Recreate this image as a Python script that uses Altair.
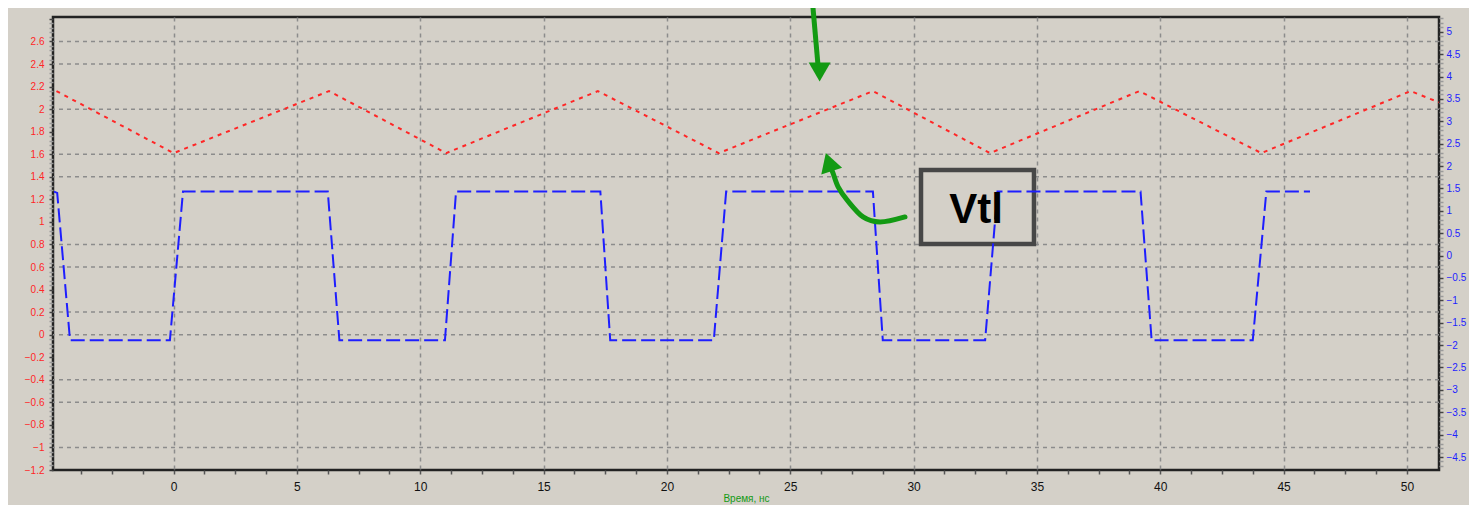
import altair as alt
import pandas as pd

# ---------------- data ----------------
time_red = [-4.75, 0.0, 6.3, 11.05, 17.2, 22.1, 28.35, 33.1, 39.15, 44.1, 50.15, 51.3]
v_red = [2.16, 1.61, 2.16, 1.61, 2.16, 1.61, 2.16, 1.61, 2.16, 1.61, 2.16, 2.06]

time_blue = [-4.85, -4.72, -4.2, -0.15, 0.38, 6.25, 6.72, 11.0, 11.45, 17.3, 17.7,
             21.9, 22.4, 28.35, 28.75, 32.9, 33.4, 39.2, 39.65, 43.75, 44.3, 46.07]
v_blue = [1.43, 1.40, -1.89, -1.89, 1.43, 1.43, -1.89, -1.89, 1.43, 1.43, -1.89,
          -1.89, 1.43, 1.43, -1.89, -1.89, 1.43, 1.43, -1.89, -1.89, 1.43, 1.43]

x_ticks = [round(-3.75 + 1.25 * i, 2) for i in range(44)]
left_ticks = [round(-1.2 + 0.04 * i, 2) for i in range(101)]
right_ticks = [round(-4.7 + 0.1 * i, 1) for i in range(101)]
left_grid = [2.6, 2.4, 2.0, 1.6, 1.4, 0.8, 0.6, 0.2, 0.0, -0.4, -0.6, -1.0]

# annotations (data units of the left axis)
arrow1_t = [25.92, 26.12]
arrow1_v = [2.90, 2.40]
arrow2_t = [29.65, 28.64, 27.95, 27.30, 26.94, 26.73, 26.62]
arrow2_v = [1.044, 0.999, 1.044, 1.195, 1.310, 1.434, 1.49]
head_t = [26.19, 26.56]
head_v = [2.33, 1.53]
head_shape = ["triangle-down", "triangle-up"]
head_angle = [0, 342]
box_t = [30.30]
box_t2 = [34.88]
box_v = [1.461]
box_v2 = [0.804]
label_t = [32.53]
label_v = [0.99]
label_txt = ["Vtl"]

BG = "#d4d0c8"
RED = "#ff2626"
BLUE = "#1e1eff"
GREEN = "#139a13"
GRID = "#8c8c8c"
FONT = "Liberation Sans"

XDOM = [-4.89, 51.3]
LDOM = [-1.2, 2.817]
RDOM = [-4.79, 5.33]

red_df = pd.DataFrame({"t": time_red, "v": v_red})
blue_df = pd.DataFrame({"t": time_blue, "v": v_blue})
grid_df = pd.DataFrame({"v": left_grid})
a1_df = pd.DataFrame({"t": arrow1_t, "v": arrow1_v, "o": range(len(arrow1_t))})
a2_df = pd.DataFrame({"t": arrow2_t, "v": arrow2_v, "o": range(len(arrow2_t))})
head_df = pd.DataFrame({"t": head_t, "v": head_v, "shape": head_shape, "angle": head_angle})
box_df = pd.DataFrame({"t": box_t, "t2": box_t2, "v": box_v, "v2": box_v2})
lab_df = pd.DataFrame({"t": label_t, "v": label_v, "txt": label_txt})

xaxis = alt.Axis(
    values=x_ticks,
    labelExpr="datum.value % 5 === 0 ? format(datum.value, 'd') : ''",
    labelFont=FONT, labelFontSize=12, labelColor="#111",
    labelPadding=7, labelOverlap=False, labelFlush=False,
    tickSize=4, tickColor="#555", tickWidth=1.5,
    grid=True, gridColor=GRID, gridDash=[4, 4], gridWidth=1.5,
    gridOpacity={"condition": {"test": "datum.value % 5 === 0", "value": 1}, "value": 0},
    domain=False,
    title="Время, нс", titleColor=GREEN, titleFont=FONT,
    titleFontSize=10, titleFontWeight="normal", titlePadding=1,
)


def X():
    return alt.X("t:Q", scale=alt.Scale(domain=XDOM, nice=False, zero=False), axis=xaxis)


def YL(field="v", axis=None):
    if axis is None:
        return alt.Y(f"{field}:Q", scale=alt.Scale(domain=LDOM, nice=False, zero=False), axis=None)
    return alt.Y(f"{field}:Q", scale=alt.Scale(domain=LDOM, nice=False, zero=False), axis=axis)


LTEST = "abs(datum.value*5 - round(datum.value*5)) < 0.001"
RTEST = "abs(datum.value*2 - round(datum.value*2)) < 0.001"

grid = alt.Chart(grid_df).mark_rule(color=GRID, strokeDash=[4, 4], strokeWidth=1.5).encode(
    y=YL()
)

box = alt.Chart(box_df).mark_rect(fill=BG, stroke="#474747", strokeWidth=4.5).encode(
    x=X(), x2="t2:Q", y=YL(), y2="v2:Q"
)

left_axis = alt.Axis(
    orient="left", values=left_ticks,
    labelExpr=f"{LTEST} && datum.value < 2.7 ? format(datum.value, '.1~f') : ''",
    labelColor=RED, labelFont=FONT, labelFontSize=10, labelPadding=5,
    labelOverlap=False, labelFlush=False,
    tickSize=4, tickWidth=1.5,
    tickColor={"condition": {"test": LTEST, "value": "#444"}, "value": "#9a9a9a"},
    grid=False, domain=False, title=None,
)

red = alt.Chart(red_df).mark_line(color=RED, strokeWidth=2, strokeDash=[4, 5]).encode(
    x=X(), y=YL(axis=left_axis)
)

right_axis = alt.Axis(
    orient="right", values=right_ticks,
    labelExpr=f"{RTEST} ? format(datum.value, '.1~f') : ''",
    labelColor=BLUE, labelFont=FONT, labelFontSize=10, labelPadding=3,
    labelOverlap=False, labelFlush=False,
    tickSize=4, tickWidth=1.5,
    tickColor={"condition": {"test": RTEST, "value": "#444"}, "value": "#9a9a9a"},
    grid=False, domain=False, title=None,
)

blue = alt.Chart(blue_df).mark_line(color=BLUE, strokeWidth=2, strokeDash=[14, 5]).encode(
    x=X(),
    y=alt.Y("v:Q", scale=alt.Scale(domain=RDOM, nice=False, zero=False), axis=right_axis),
)

text = alt.Chart(lab_df).mark_text(
    font=FONT, fontWeight="bold", fontSize=42, color="#000",
    align="center", baseline="alphabetic"
).encode(x=X(), y=YL(), text="txt:N")

arrow1 = alt.Chart(a1_df).mark_line(color=GREEN, strokeWidth=5).encode(
    x=X(), y=YL(), order="o:Q"
)
arrow2 = alt.Chart(a2_df).mark_line(color=GREEN, strokeWidth=5, interpolate="cardinal",
                                    strokeCap="round").encode(
    x=X(), y=YL(), order="o:Q"
)
heads = alt.Chart(head_df).mark_point(filled=True, color=GREEN, opacity=1, size=480).encode(
    x=X(), y=YL(),
    shape=alt.Shape("shape:N", scale=None),
    angle=alt.Angle("angle:Q", scale=None),
)

chart = alt.layer(grid, box, red, blue, text, arrow1, arrow2, heads).resolve_scale(
    y="independent"
).properties(
    width=1386, height=453,
    padding={"left": 45, "top": 9, "right": 30, "bottom": 35},
    autosize=alt.AutoSizeParams(type="none"),
    background=BG,
).configure_view(stroke="#222", strokeWidth=2.5)

chart.save("out.html", embed_options={"renderer": "svg", "actions": False})
